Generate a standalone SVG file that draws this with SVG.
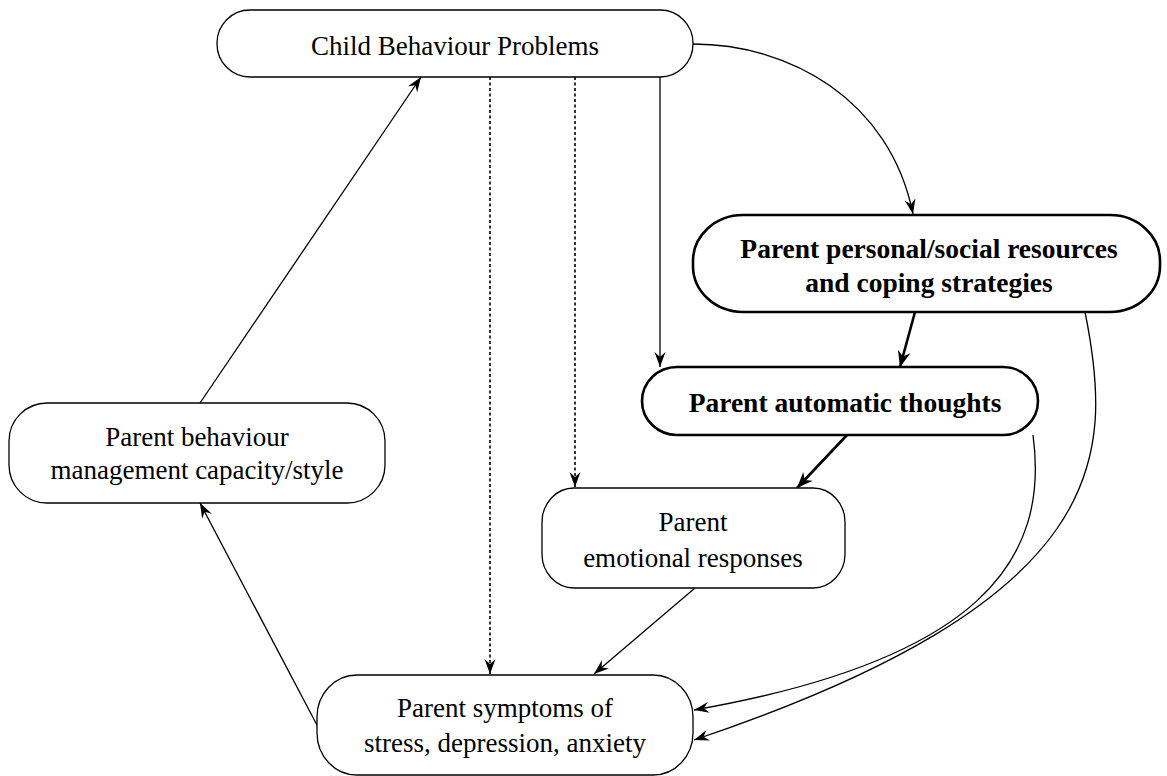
<svg xmlns="http://www.w3.org/2000/svg" width="1167" height="776" viewBox="0 0 1167 776">
<style>
.node{fill:#fff;stroke:#000;stroke-width:1.3}
.bold{stroke-width:2.6}
.t{font-family:"Liberation Serif","Times New Roman",serif;font-size:27px;fill:#000;text-anchor:middle}
.tb{font-weight:bold;font-size:27.5px}
.c{fill:none;stroke:#000;stroke-width:1.3}
.cb{stroke-width:2.6}
.dot{stroke-dasharray:3 2.5;stroke-width:1.6}
</style>
<defs>
<marker id="ah" markerUnits="userSpaceOnUse" markerWidth="20" markerHeight="14" viewBox="-16 -7 17 14" refX="0" refY="0" orient="auto">
<path d="M0,0 L-15,-5.5 L-10,0 L-15,5.5 Z" fill="#000"/>
</marker>
<marker id="ahb" markerUnits="userSpaceOnUse" markerWidth="22" markerHeight="16" viewBox="-17 -8 18 16" refX="0" refY="0" orient="auto">
<path d="M0,0 L-16,-6.5 L-11,0 L-16,6.5 Z" fill="#000"/>
</marker>
</defs>
<rect width="1167" height="776" fill="#fff"/>
<g id="connectors">
<path class="c" d="M693,44 C790,44 890,100 913,214" marker-end="url(#ah)"/>
<path class="c" d="M660,77 L660,367" marker-end="url(#ah)"/>
<path class="c dot" d="M490,77 L490,674" marker-end="url(#ah)"/>
<path class="c dot" d="M575,77 L575,487" marker-end="url(#ah)"/>
<path class="c cb" d="M915,312 L900,367" marker-end="url(#ahb)"/>
<path class="c cb" d="M847,435 L797,488" marker-end="url(#ahb)"/>
<path class="c" d="M695,588 L594,674" marker-end="url(#ah)"/>
<path class="c" d="M318,727 L200,503" marker-end="url(#ah)"/>
<path class="c" d="M200,403 L421,77" marker-end="url(#ah)"/>
<path class="c" d="M1033,435 C1050,560 980,660 694,710" marker-end="url(#ah)"/>
<path class="c" d="M1085,312 C1115,460 1110,600 694,740" marker-end="url(#ah)"/>
</g>
<g id="child">
<rect class="node" x="217" y="10" width="476" height="67" rx="33" ry="33"/>
<text class="t" x="455" y="55">Child Behaviour Problems</text>
</g>
<g id="resources">
<rect class="node bold" x="693" y="215" width="467" height="97" rx="50" ry="46"/>
<text class="t tb" x="929" y="258">Parent personal/social resources</text>
<text class="t tb" x="929" y="292">and coping strategies</text>
</g>
<g id="thoughts">
<rect class="node bold" x="642" y="367" width="396" height="68" rx="35" ry="34"/>
<text class="t tb" x="845" y="412">Parent automatic thoughts</text>
</g>
<g id="management">
<rect class="node" x="9" y="403" width="376" height="100" rx="38" ry="38"/>
<text class="t" x="197" y="446">Parent behaviour</text>
<text class="t" x="197" y="479">management capacity/style</text>
</g>
<g id="emotional">
<rect class="node" x="542" y="488" width="303" height="100" rx="32" ry="34"/>
<text class="t" x="693" y="531">Parent</text>
<text class="t" x="693" y="567">emotional responses</text>
</g>
<g id="symptoms">
<rect class="node" x="317" y="675" width="376" height="100" rx="40" ry="42"/>
<text class="t" x="505" y="717">Parent symptoms of</text>
<text class="t" x="505" y="752">stress, depression, anxiety</text>
</g>
</svg>
